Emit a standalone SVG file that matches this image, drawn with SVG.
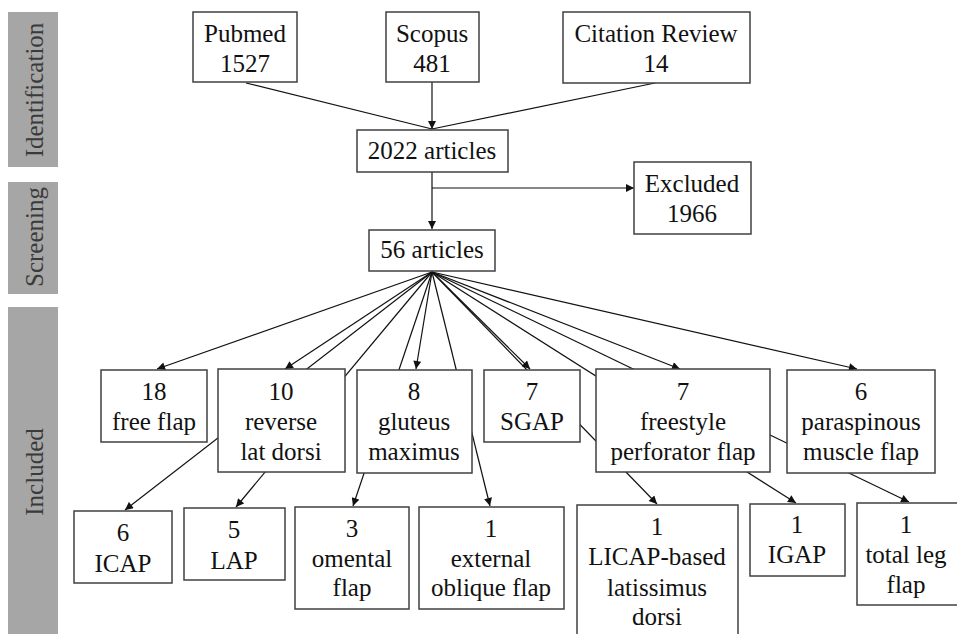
<svg xmlns="http://www.w3.org/2000/svg" width="957" height="634" viewBox="0 0 957 634">
<style>
.bg{fill:#ffffff}
.side{fill:#a6a6a6}
.stxt{font-size:25px;fill:#3a3a3a;text-anchor:middle}
.box{fill:#ffffff;stroke:#404040;stroke-width:1.5}
.t{font-size:25px;fill:#111111;text-anchor:middle}
.ln{stroke:#111111;stroke-width:1.2;fill:none}
.la{stroke:#111111;stroke-width:1.2;fill:none;marker-end:url(#ah)}
</style>
<defs>
<marker id="ah" viewBox="0 0 10 10" refX="10" refY="5" markerWidth="9" markerHeight="8" markerUnits="userSpaceOnUse" orient="auto">
<path d="M0,0 L10,5 L0,10 z" fill="#111111"/>
</marker>
</defs>
<rect class="bg" x="0" y="0" width="957" height="634"/>
<g font-family="Liberation Serif, Tinos, Times New Roman, Times, Nimbus Roman, DejaVu Serif, serif">
<g id="sidebar">
<rect class="side" x="8" y="12" width="50" height="155"/>
<text class="stxt" transform="translate(43,90) rotate(-90)">Identification</text>
<rect class="side" x="8" y="182" width="50" height="112"/>
<text class="stxt" transform="translate(43,237) rotate(-90)">Screening</text>
<rect class="side" x="8" y="307" width="50" height="330"/>
<text class="stxt" transform="translate(43,472) rotate(-90)">Included</text>
</g>
<g id="connectors">
<line class="ln" x1="246" y1="83" x2="432" y2="129"/>
<line class="ln" x1="655" y1="83" x2="432" y2="129"/>
<line class="la" x1="432" y1="82" x2="432" y2="129"/>
<line class="la" x1="432" y1="172" x2="432" y2="229"/>
<polyline class="la" points="432,188 634,188"/>
<line class="la" x1="432" y1="272" x2="157" y2="369"/>
<line class="la" x1="432" y1="272" x2="285" y2="369"/>
<line class="la" x1="432" y1="272" x2="125" y2="510"/>
<line class="la" x1="432" y1="272" x2="236" y2="507"/>
<line class="la" x1="432" y1="272" x2="416" y2="369"/>
<line class="la" x1="432" y1="272" x2="353" y2="506"/>
<line class="la" x1="432" y1="272" x2="490" y2="506"/>
<line class="la" x1="432" y1="272" x2="530" y2="369"/>
<line class="la" x1="432" y1="272" x2="657" y2="504"/>
<line class="la" x1="432" y1="272" x2="680" y2="369"/>
<line class="la" x1="432" y1="272" x2="796" y2="503"/>
<line class="la" x1="432" y1="272" x2="909" y2="502"/>
<line class="la" x1="432" y1="272" x2="857" y2="369"/>
</g>
<g id="pubmed"><rect class="box" x="193" y="12" width="104" height="70"/><text class="t" x="245" y="42">Pubmed</text><text class="t" x="245" y="72">1527</text></g>
<g id="scopus"><rect class="box" x="386" y="12" width="93" height="70"/><text class="t" x="432" y="42">Scopus</text><text class="t" x="432" y="72">481</text></g>
<g id="citation"><rect class="box" x="563" y="12" width="187" height="71"/><text class="t" x="656" y="42">Citation Review</text><text class="t" x="656" y="72">14</text></g>
<g id="articles2022"><rect class="box" x="357" y="130" width="151" height="42"/><text class="t" x="432" y="159">2022 articles</text></g>
<g id="excluded"><rect class="box" x="634" y="162" width="117" height="72"/><text class="t" x="692" y="192">Excluded</text><text class="t" x="692" y="222">1966</text></g>
<g id="articles56"><rect class="box" x="369" y="230" width="126" height="41"/><text class="t" x="432" y="258">56 articles</text></g>
<g id="freeflap"><rect class="box" x="101" y="370" width="106" height="72"/><text class="t" x="154" y="400">18</text><text class="t" x="154" y="430">free flap</text></g>
<g id="reverselat"><rect class="box" x="218" y="369" width="127" height="103"/><text class="t" x="281" y="400">10</text><text class="t" x="281" y="430">reverse</text><text class="t" x="281" y="460">lat dorsi</text></g>
<g id="gluteus"><rect class="box" x="357" y="370" width="115" height="103"/><text class="t" x="414" y="400">8</text><text class="t" x="414" y="430">gluteus</text><text class="t" x="414" y="460">maximus</text></g>
<g id="sgap"><rect class="box" x="484" y="370" width="96" height="72"/><text class="t" x="532" y="400">7</text><text class="t" x="532" y="430">SGAP</text></g>
<g id="freestyle"><rect class="box" x="596" y="369" width="174" height="103"/><text class="t" x="683" y="400">7</text><text class="t" x="683" y="430">freestyle</text><text class="t" x="683" y="460">perforator flap</text></g>
<g id="paraspinous"><rect class="box" x="787" y="370" width="148" height="103"/><text class="t" x="861" y="400">6</text><text class="t" x="861" y="430">paraspinous</text><text class="t" x="861" y="460">muscle flap</text></g>
<g id="icap"><rect class="box" x="74" y="511" width="98" height="72"/><text class="t" x="123" y="541">6</text><text class="t" x="123" y="572">ICAP</text></g>
<g id="lap"><rect class="box" x="184" y="508" width="101" height="72"/><text class="t" x="234" y="538">5</text><text class="t" x="234" y="569">LAP</text></g>
<g id="omental"><rect class="box" x="295" y="507" width="114" height="102"/><text class="t" x="352" y="537">3</text><text class="t" x="352" y="567">omental</text><text class="t" x="352" y="596">flap</text></g>
<g id="extoblique"><rect class="box" x="419" y="507" width="145" height="102"/><text class="t" x="491" y="537">1</text><text class="t" x="491" y="567">external</text><text class="t" x="491" y="596">oblique flap</text></g>
<g id="licap"><rect class="box" x="577" y="505" width="161" height="140"/><text class="t" x="657" y="535">1</text><text class="t" x="657" y="565">LICAP-based</text><text class="t" x="657" y="596">latissimus</text><text class="t" x="657" y="625">dorsi</text></g>
<g id="igap"><rect class="box" x="750" y="504" width="95" height="72"/><text class="t" x="797" y="533">1</text><text class="t" x="797" y="563">IGAP</text></g>
<g id="totalleg"><rect class="box" x="857" y="503" width="102" height="102"/><text class="t" x="906" y="533">1</text><text class="t" x="906" y="563">total leg</text><text class="t" x="906" y="593">flap</text></g>
</g>
</svg>
